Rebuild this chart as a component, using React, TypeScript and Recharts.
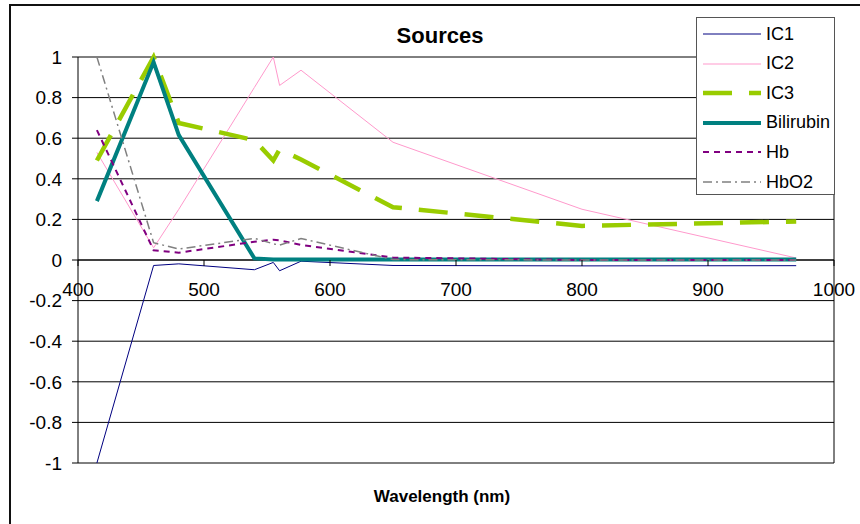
import React from "react";
import { LineChart, Line, XAxis, YAxis, CartesianGrid, ReferenceLine, ReferenceDot } from "recharts";

const wavelengths = [415, 460, 480, 540, 555, 560, 577, 650, 800, 970];
const ic1 = [-1, -0.027, -0.019, -0.048, -0.012, -0.053, -0.006, -0.027, -0.029, -0.028];
const ic2 = [0.53, 0.06, 0.25, 0.85, 1.0, 0.86, 0.935, 0.58, 0.25, 0.01];
const ic3 = [0.49, 1.0, 0.675, 0.59, 0.49, 0.545, 0.495, 0.26, 0.168, 0.19];
const bilirubin = [0.29, 0.975, 0.615, 0.008, 0.003, 0.002, 0.002, 0.002, 0.002, 0.002];
const hb = [0.64, 0.048, 0.036, 0.09, 0.1, 0.097, 0.074, 0.012, 0.0, 0.0];
const hbo2 = [1.0, 0.085, 0.054, 0.107, 0.08, 0.073, 0.106, 0.002, 0.0, 0.0];

const xTicks = [400, 500, 600, 700, 800, 900, 1000];
const yTicks = [-1, -0.8, -0.6, -0.4, -0.2, 0, 0.2, 0.4, 0.6, 0.8, 1];

const FONT = '"Liberation Sans", Arial, sans-serif';

const data = wavelengths.map((w, i) => ({
  w,
  ic1: ic1[i],
  ic2: ic2[i],
  ic3: ic3[i],
  bilirubin: bilirubin[i],
  hb: hb[i],
  hbo2: hbo2[i],
}));

const series = [
  { key: "ic1", name: "IC1", color: "#000080", width: 1, dash: undefined },
  { key: "ic2", name: "IC2", color: "#ff99cc", width: 1, dash: undefined },
  { key: "ic3", name: "IC3", color: "#99cc00", width: 4.5, dash: "29 17" },
  { key: "bilirubin", name: "Bilirubin", color: "#008080", width: 4, dash: undefined },
  { key: "hb", name: "Hb", color: "#800080", width: 2, dash: "6 5" },
  { key: "hbo2", name: "HbO2", color: "#808080", width: 1.5, dash: "9 4 2 4" },
];

// x tick label + tick mark, hung off the zero line
const XTickAtZero = (props: any) => {
  const { cx, cy, value } = props;
  if (cx == null || cy == null) return null;
  return (
    <g>
      <line x1={cx} y1={cy} x2={cx} y2={cy + 6} stroke="#000" strokeWidth={1} />
      <text x={cx} y={cy + 36} textAnchor="middle" fontSize={19} fontFamily={FONT} fill="#000">
        {value}
      </text>
    </g>
  );
};

function LegendBox() {
  return (
    <div
      style={{
        position: "absolute",
        left: 696,
        top: 17,
        width: 137,
        height: 176,
        background: "#fff",
        border: "1px solid #555",
        fontFamily: FONT,
        fontSize: 18,
      }}
    >
      {series.map((s, i) => (
        <div
          key={s.key}
          style={{ position: "absolute", left: 0, top: 6 + i * 29.6, height: 20, display: "flex", alignItems: "center" }}
        >
          <svg width={66} height={20}>
            <line
              x1={6}
              x2={64}
              y1={10}
              y2={10}
              stroke={s.color}
              strokeWidth={s.width}
              strokeDasharray={s.dash}
            />
          </svg>
          <span style={{ marginLeft: 3, color: "#000" }}>{s.name}</span>
        </div>
      ))}
    </div>
  );
}

export default function App() {
  return (
    <div style={{ position: "absolute", left: 0, top: 0, width: 860, height: 524, background: "#fff", overflow: "hidden" }}>
      {/* outer frame */}
      <div
        style={{
          position: "absolute",
          left: 9,
          top: 4,
          width: 900,
          height: 600,
          borderTop: "2px solid #111",
          borderLeft: "2px solid #111",
        }}
      />
      <LineChart width={860} height={524} data={data} margin={{ top: 57, right: 26, bottom: 61, left: 18 }}>
        <CartesianGrid vertical={false} stroke="#000" strokeWidth={1} />
        <XAxis type="number" dataKey="w" domain={[400, 1000]} ticks={xTicks} hide />
        <YAxis
          type="number"
          domain={[-1, 1]}
          ticks={yTicks}
          width={60}
          axisLine={{ stroke: "#000" }}
          tickLine={{ stroke: "#000" }}
          tickSize={6}
          tickMargin={10}
          tick={{ fill: "#000", fontSize: 19, fontFamily: FONT }}
          interval={0}
        />
        <ReferenceLine x={1000} stroke="#000" />
        <ReferenceLine y={0} stroke="#000" />
        {series.map((s) => (
          <Line
            key={s.key}
            type="linear"
            dataKey={s.key}
            name={s.name}
            stroke={s.color}
            strokeWidth={s.width}
            strokeDasharray={s.dash}
            dot={false}
            activeDot={false}
            isAnimationActive={false}
          />
        ))}
        {xTicks.map((t) => (
          <ReferenceDot
            key={t}
            x={t}
            y={0}
            r={0}
            ifOverflow="visible"
            shape={(p: any) => <XTickAtZero {...p} value={t} />}
          />
        ))}
      </LineChart>
      <div
        style={{
          position: "absolute",
          left: 340,
          top: 23,
          width: 200,
          textAlign: "center",
          fontFamily: FONT,
          fontWeight: "bold",
          fontSize: 22,
        }}
      >
        Sources
      </div>
      <div
        style={{
          position: "absolute",
          left: 292,
          top: 487,
          width: 300,
          textAlign: "center",
          fontFamily: FONT,
          fontWeight: "bold",
          fontSize: 17,
        }}
      >
        Wavelength (nm)
      </div>
      <LegendBox />
    </div>
  );
}
